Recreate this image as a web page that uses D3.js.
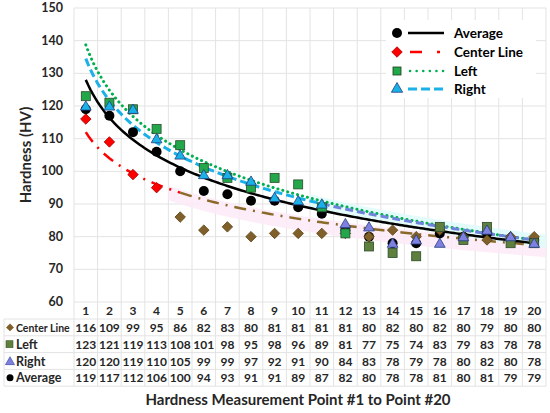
<!DOCTYPE html>
<html><head><meta charset="utf-8">
<script src="https://cdn.jsdelivr.net/npm/d3@7"></script>
<style>body{margin:0;background:#fff;}svg{font-family:Lato,"Noto Sans",sans-serif;}</style>
</head><body><svg id="c" width="550" height="413"></svg>
<script>
const points = d3.range(1, 21);
const centerLine = [116,109,99,95,86,82,83,80,81,81,81,81,80,82,80,82,80,79,80,80];
const left = [123,121,119,113,108,101,98,95,98,96,89,81,77,75,74,83,79,83,78,78];
const right = [120,120,119,110,105,99,99,97,92,91,90,84,83,78,79,78,80,82,80,78];
const average = [119,117,112,106,100,94,93,91,91,89,87,82,80,78,78,81,80,81,79,79];
const yTicks = [60,70,80,90,100,110,120,130,140,150];
const seriesNames = ["Center Line","Left","Right","Average"];
// logarithmic trendline values at point 1 and point 20
const trendStart = {center: 112, left: 138.7, right: 134.5, average: 128};
const trendEnd = {center: 77.5, left: 79, right: 79, average: 78};

const svg = d3.select("#c");
const L = 74, R = 546, T = 8, B = 302;
const x = d3.scaleBand().domain(points).range([L, R]);
const xc = v => L + (v - 0.5) * x.bandwidth();
const y = d3.scaleLinear().domain([60, 150]).range([B, T]);
const grid = "#e3e3e3";

function logTrend(key) {
  const a = trendStart[key], b = (trendEnd[key] - trendStart[key]) / Math.log(20);
  return v => a + b * Math.log(v);
}

// grid
const g = svg.append("g");
yTicks.forEach(t => g.append("line").attr("x1", L).attr("x2", R).attr("y1", y(t)).attr("y2", y(t)).attr("stroke", grid));
const rowH = 16.8;
const hdrTop = B, hdrBot = B + 17;
const tableBottom = hdrBot + rowH * 4;
d3.range(21).forEach(i => {
  const xx = L + i * x.bandwidth();
  g.append("line").attr("x1", xx).attr("x2", xx).attr("y1", T).attr("y2", tableBottom).attr("stroke", grid);
});
[hdrBot, hdrBot + rowH, hdrBot + 2 * rowH, hdrBot + 3 * rowH, tableBottom].forEach(yy =>
  g.append("line").attr("x1", 4).attr("x2", R).attr("y1", yy).attr("y2", yy).attr("stroke", grid));
g.append("line").attr("x1", 4).attr("x2", 4).attr("y1", hdrBot).attr("y2", tableBottom).attr("stroke", grid);

const fC = logTrend("center"), fL = logTrend("left"), fR = logTrend("right"), fA = logTrend("average");
// faint bands
const bandC = d3.range(4.5, 20.51, 0.25);
svg.append("path").datum(bandC).attr("fill", "#fdeaf7").attr("opacity", 0.85)
  .attr("d", d3.area().x(xc).y0(d => y(fC(d) - 3.5)).y1(d => y(fC(d) + 1)));
const bandR = d3.range(10.5, 20.51, 0.25);
svg.append("path").datum(bandR).attr("fill", "#dffafa").attr("opacity", 0.85)
  .attr("d", d3.area().x(xc).y0(d => y(fR(d) - 2)).y1(d => y(fR(d) + 2)));

// y tick labels
svg.append("g").selectAll("text").data(yTicks).join("text")
  .attr("x", 63).attr("y", d => y(d) + 4).attr("text-anchor", "end")
  .attr("font-size", 12.5).attr("font-weight", "bold").attr("fill", "#262626").text(d => d);

// trend lines
const line = f => d3.line().x(xc).y(d => y(f(d)));
function trend(f, from, to, color, dash, w, cap) {
  svg.append("path").datum(d3.range(from, to + 0.001, 0.1)).attr("fill", "none")
    .attr("stroke", color).attr("stroke-width", w).attr("stroke-dasharray", dash)
    .attr("stroke-linecap", cap || "butt").attr("d", line(f));
}
trend(fC, 1, 5, "#ff0000", "12,7,2,7", 2.5);
trend(fC, 5, 20, "#8a6a2a", "12,7,2,7", 2.5);
trend(fL, 1, 20, "#00b050", "0.1,5", 3, "round");
trend(fA, 1, 20, "#000000", null, 2.5);
trend(fR, 1, 11, "#1ab0e8", "8,4", 3);
trend(fR, 11, 20, "#6f82dc", "8,4", 3);

// markers
const sym = (type, size) => d3.symbol().type(type).size(size);
const cColor = i => i < 4 ? "#ff0000" : "#80602a";
const cStroke = i => i < 4 ? "#a00000" : "#5a4010";
const lColor = i => i < 12 ? "#22a84a" : "#5e7f3e";
const rColor = i => i < 11 ? "#1ab0e8" : "#8080e0";
const mk = svg.append("g");
mk.selectAll(".a").data(average).join("circle").attr("cx", (d, i) => xc(points[i])).attr("cy", d => y(d)).attr("r", 5).attr("fill", "#000");
mk.selectAll(".c").data(centerLine).join("path").attr("d", sym(d3.symbolDiamond2, 70)())
  .attr("transform", (d, i) => `translate(${xc(points[i])},${y(d)})`).attr("fill", (d, i) => cColor(i)).attr("stroke", (d, i) => cStroke(i)).attr("stroke-width", 0.8);
mk.selectAll(".l").data(left).join("rect").attr("x", (d, i) => xc(points[i]) - 4.5).attr("y", d => y(d) - 4.5)
  .attr("width", 9).attr("height", 9).attr("fill", (d, i) => lColor(i)).attr("stroke", "#2a4a2a").attr("stroke-width", 0.8);
mk.selectAll(".r").data(right).join("path").attr("d", sym(d3.symbolTriangle, 50)())
  .attr("transform", (d, i) => `translate(${xc(points[i])},${y(d) + 1})`).attr("fill", (d, i) => rColor(i)).attr("stroke", "#1f3f7f").attr("stroke-width", 0.8);

// legend
const lg = svg.append("g");
lg.append("rect").attr("x", 386).attr("y", 20).attr("width", 150).attr("height", 78).attr("fill", "#fff");
const legendItems = [
  {name: "Average", yy: 33},
  {name: "Center Line", yy: 52},
  {name: "Left", yy: 71},
  {name: "Right", yy: 89}
];
legendItems.forEach((it, k) => {
  const yy = it.yy;
  if (k === 0) {
    lg.append("circle").attr("cx", 397).attr("cy", yy).attr("r", 5).attr("fill", "#000");
    lg.append("line").attr("x1", 408).attr("x2", 444).attr("y1", yy).attr("y2", yy).attr("stroke", "#000").attr("stroke-width", 2.5);
  } else if (k === 1) {
    lg.append("path").attr("d", sym(d3.symbolDiamond2, 70)()).attr("transform", `translate(397,${yy})`).attr("fill", "#ff0000").attr("stroke", "#a00000").attr("stroke-width", 0.8);
    lg.append("line").attr("x1", 410).attr("x2", 444).attr("y1", yy).attr("y2", yy).attr("stroke", "#ff0000").attr("stroke-width", 2.5).attr("stroke-dasharray", "12,15,3,20");
  } else if (k === 2) {
    lg.append("rect").attr("x", 393).attr("y", yy - 4).attr("width", 8).attr("height", 8).attr("fill", "#22a84a").attr("stroke", "#1a3a1a").attr("stroke-width", 0.8);
    lg.append("line").attr("x1", 410).attr("x2", 444).attr("y1", yy).attr("y2", yy).attr("stroke", "#00b050").attr("stroke-width", 2.5).attr("stroke-dasharray", "0.1,6.5").attr("stroke-linecap", "round");
  } else {
    lg.append("path").attr("d", sym(d3.symbolTriangle, 55)()).attr("transform", `translate(397,${yy})`).attr("fill", "#1ab0e8").attr("stroke", "#1f3f7f").attr("stroke-width", 0.8);
    lg.append("line").attr("x1", 408).attr("x2", 444).attr("y1", yy).attr("y2", yy).attr("stroke", "#1ab0e8").attr("stroke-width", 3).attr("stroke-dasharray", "9,4");
  }
  lg.append("text").attr("x", 454).attr("y", yy + 5).attr("font-size", 13.5).attr("font-weight", "bold").attr("fill", "#000").text(it.name);
});

// table
const tb = svg.append("g").attr("font-weight", "bold").attr("font-size", 12).attr("fill", "#262626");
tb.selectAll(".h").data(points).join("text").attr("x", d => xc(d)).attr("y", (hdrTop + hdrBot) / 2 + 4.5)
  .attr("text-anchor", "middle").text(d => d);
const rows = [centerLine, left, right, average];
rows.forEach((vals, r) => {
  const cy = hdrBot + rowH * r + rowH / 2;
  tb.append("g").selectAll("text").data(vals).join("text").attr("x", (d, i) => xc(points[i])).attr("y", cy + 4.5)
    .attr("text-anchor", "middle").text(d => d);
  tb.append("text").attr("x", 16).attr("y", cy + 4.5).attr("font-size", r === 0 ? 10.5 : 12.5).text(seriesNames[r]);
  if (r === 0) tb.append("path").attr("d", sym(d3.symbolDiamond2, 40)()).attr("transform", `translate(10,${cy})`).attr("fill", "#80602a");
  if (r === 1) tb.append("rect").attr("x", 6).attr("y", cy - 3.5).attr("width", 7).attr("height", 7).attr("fill", "#5e7f3e").attr("stroke", "#3a5a2a").attr("stroke-width", 0.6);
  if (r === 2) tb.append("path").attr("d", sym(d3.symbolTriangle, 36)()).attr("transform", `translate(10,${cy + 1})`).attr("fill", "#7f7fe0").attr("stroke", "#2f3f9f").attr("stroke-width", 0.6);
  if (r === 3) tb.append("circle").attr("cx", 10).attr("cy", cy).attr("r", 3.5).attr("fill", "#000");
});

// axis titles
svg.append("text").attr("transform", "translate(31,155) rotate(-90)").attr("text-anchor", "middle")
  .attr("font-size", 15).attr("font-weight", "bold").attr("fill", "#262626").text("Hardness (HV)");
svg.append("text").attr("x", 298).attr("y", 405).attr("text-anchor", "middle")
  .attr("font-size", 15).attr("font-weight", "bold").attr("fill", "#262626").text("Hardness Measurement Point #1 to Point #20");
</script></body></html>
